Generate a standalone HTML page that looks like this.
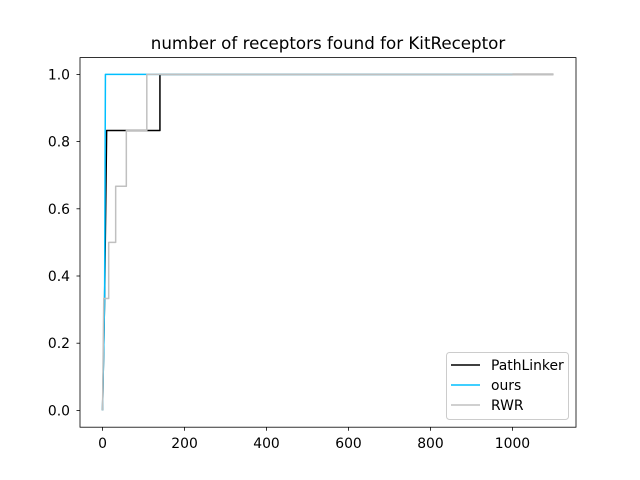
<!DOCTYPE html>
<html><head><meta charset="utf-8"><style>
body{margin:0;background:#fff}
svg{display:block;font-family:"DejaVu Sans","Liberation Sans",sans-serif}
</style></head><body>
<svg id="chart" width="640" height="480" viewBox="0 0 640 480">
<rect width="640" height="480" fill="#fff"/>
<text x="328" y="49" text-anchor="middle" font-size="16.7">number of receptors found for KitReceptor</text>
<g id="ticks"></g>
<g id="lines"></g>
<rect x="80" y="57.6" width="496" height="369.6" fill="none" stroke="#000" stroke-width="0.8"/>
<g>
<rect x="446.5" y="352.5" width="122" height="67" rx="3" fill="#fff" fill-opacity="0.8" stroke="#ccc" stroke-width="1"/>
<line x1="451" x2="480" y1="365" y2="365" stroke="#000" stroke-width="1.5"/>
<text x="491" y="370" font-size="13.9">PathLinker</text>
<line x1="451" x2="480" y1="385" y2="385" stroke="#00bfff" stroke-width="1.5"/>
<text x="491" y="390" font-size="13.9">ours</text>
<line x1="451" x2="480" y1="405" y2="405" stroke="#c0c0c0" stroke-width="1.5"/>
<text x="491" y="410" font-size="13.9">RWR</text>
</g>
</svg>
<script>
const xTicks = [0, 200, 400, 600, 800, 1000];
const yTicks = [0.0, 0.2, 0.4, 0.6, 0.8, 1.0];
const rwrX = [0, 3, 15, 15, 32, 32, 58, 58, 108, 108, 1100];
const rwrY = [0, 0.333, 0.333, 0.5, 0.5, 0.667, 0.667, 0.833, 0.833, 1, 1];
const pathX = [0, 5, 10, 140, 140, 1100];
const pathY = [0, 0.333, 0.833, 0.833, 1, 1];
const oursX = [0, 5, 7, 1000];
const oursY = [0, 0.333, 1, 1];

const X0 = 80, X1 = 576, Y0 = 427.2, Y1 = 57.6;
const xmin = -55, xmax = 1155, ymin = -0.05, ymax = 1.05;
const sx = v => X0 + (v - xmin) / (xmax - xmin) * (X1 - X0);
const sy = v => Y0 - (v - ymin) / (ymax - ymin) * (Y0 - Y1);
const NS = "http://www.w3.org/2000/svg";
const tg = document.getElementById('ticks');
xTicks.forEach(t => {
  const l = document.createElementNS(NS, 'line');
  l.setAttribute('x1', sx(t)); l.setAttribute('x2', sx(t));
  l.setAttribute('y1', Y0); l.setAttribute('y2', Y0 + 3.5);
  l.setAttribute('stroke', '#000'); l.setAttribute('stroke-width', '0.8');
  
  
  tg.appendChild(l);
  const tx = document.createElementNS(NS, 'text');
  tx.setAttribute('x', sx(t)); tx.setAttribute('y', Y0 + 21);
  tx.setAttribute('text-anchor', 'middle'); tx.setAttribute('font-size', '13.9');
  tx.textContent = t;
  
  
  tg.appendChild(tx);
});
yTicks.forEach(t => {
  const l = document.createElementNS(NS, 'line');
  l.setAttribute('x1', X0 - 3.5); l.setAttribute('x2', X0);
  l.setAttribute('y1', sy(t)); l.setAttribute('y2', sy(t));
  l.setAttribute('stroke', '#000'); l.setAttribute('stroke-width', '0.8');
  
  
  tg.appendChild(l);
  const tx = document.createElementNS(NS, 'text');
  tx.setAttribute('x', X0 - 10); tx.setAttribute('y', sy(t) + 5);
  tx.setAttribute('text-anchor', 'end'); tx.setAttribute('font-size', '13.9');
  tx.textContent = t.toFixed(1);
  
  
  tg.appendChild(tx);
});
const lg = document.getElementById('lines');
function draw(xs, ys, color, name) {
  const p = document.createElementNS(NS, 'polyline');
  p.setAttribute('points', xs.map((x, i) => sx(x) + ',' + sy(ys[i])).join(' '));
  p.setAttribute('fill', 'none'); p.setAttribute('stroke', color);
  p.setAttribute('stroke-width', '1.5'); p.setAttribute('stroke-linejoin', 'round');
  
  
  lg.appendChild(p);
}
draw(pathX, pathY, '#000', 'pathlinker-line');
draw(oursX, oursY, '#00bfff', 'ours-line');
draw(rwrX, rwrY, '#c0c0c0', 'rwr-line');
</script>
</body></html>
